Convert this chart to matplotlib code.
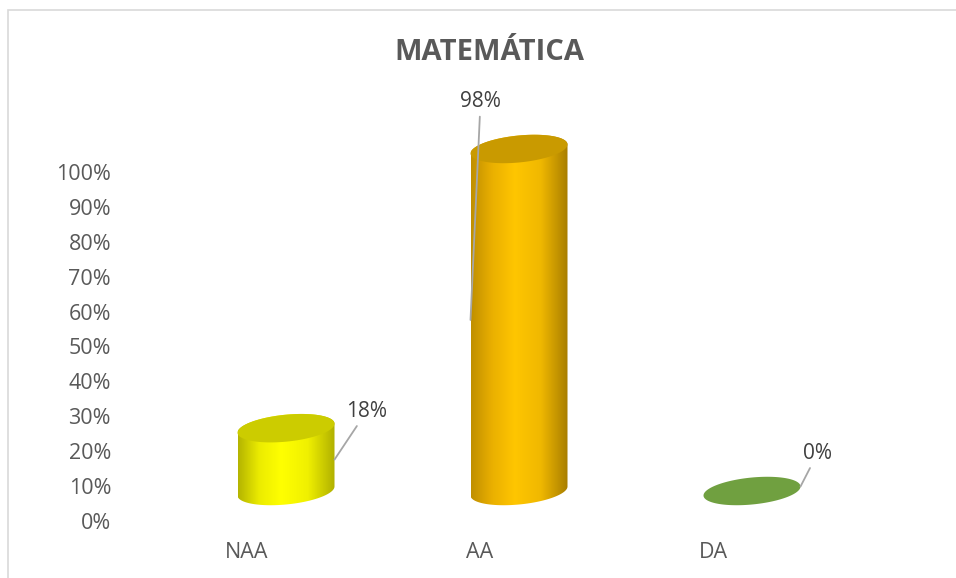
import numpy as np
import matplotlib
matplotlib.use("Agg")
import matplotlib.pyplot as plt
from matplotlib.colors import LinearSegmentedColormap
from matplotlib.patches import Polygon, Rectangle

# ---- data ----
categories = ["NAA", "AA", "DA"]
values = [0.18, 0.98, 0.0]
value_labels = ["18%", "98%", "0%"]
yticks = [0.0, 0.1, 0.2, 0.3, 0.4, 0.5, 0.6, 0.7, 0.8, 0.9, 1.0]
ytick_labels = ["0%", "10%", "20%", "30%", "40%", "50%", "60%", "70%", "80%", "90%", "100%"]
title = "MATEMÁTICA"

# ---- style ----
body_colors = [
    ["#b4b400", "#ecec00", "#ffff00", "#f0f000", "#b0b000"],
    ["#c08f00", "#eab000", "#ffc600", "#f0b800", "#a87e00"],
    ["#5f8f35", "#6fa040", "#76a844", "#6fa040", "#5f8f35"],
]
top_colors = ["#cccc00", "#c99a00", "#70a040"]
label_offsets_px = [(32, 48), (10, 218), (17, 33)]   # text offset from leader anchor (right, up)
anchor_side = [1, -1, 1]

FONT = ["Open Sans", "DejaVu Sans"]
plt.rcParams["font.family"] = FONT

W, H = 956, 578
fig = plt.figure(figsize=(W / 100, H / 100), dpi=100)

# frame
fig.patches.append(Rectangle((8 / W, -0.1), 1.2, 1 - 10 / H + 0.1, transform=fig.transFigure,
                             fill=False, edgecolor="#d9d9d9", linewidth=1.2))

px_per_cat = 233.0
px_per_unit = 349.0
left_px = 247 - 0.5 * px_per_cat
bottom_px = 521
ytop = 1.25
ax = fig.add_axes([left_px / W, (H - bottom_px) / H, 3 * px_per_cat / W, ytop * px_per_unit / H])
ax.set_xlim(-0.5, 2.5)
ax.set_ylim(0, ytop)
for s in ax.spines.values():
    s.set_visible(False)

# 3D geometry (data units)
dx = 39 / px_per_cat
floor = 30 / px_per_unit
hw = 48.5 / px_per_cat
eh = 13.5 / px_per_unit
shear = (4.5 / px_per_unit) / (hw)


def ellipse_pts(cx, cy, t):
    x = cx + hw * np.cos(t)
    y = cy + eh * np.sin(t) + shear * hw * np.cos(t)
    return x, y


for i, (cat, v) in enumerate(zip(categories, values)):
    cx = i + dx
    yb = floor
    yt = floor + v
    if v > 0:
        t1 = np.linspace(np.pi, 2 * np.pi, 80)
        t2 = np.linspace(0, np.pi, 80)
        bx, by = ellipse_pts(cx, yb, t1)
        tx, ty = ellipse_pts(cx, yt, t2)
        poly = np.column_stack([np.concatenate([bx, tx]), np.concatenate([by, ty])])
        patch = Polygon(poly, closed=True, facecolor="none", edgecolor="none")
        ax.add_patch(patch)
        cmap = LinearSegmentedColormap.from_list("c%d" % i, list(zip([0, 0.22, 0.45, 0.72, 1.0], body_colors[i])))
        grad = np.linspace(0, 1, 256).reshape(1, -1)
        im = ax.imshow(grad, extent=[cx - hw, cx + hw, yb - 2 * eh, yt + 2 * eh],
                       aspect="auto", cmap=cmap, interpolation="bilinear", zorder=2)
        im.set_clip_path(patch)
    t = np.linspace(0, 2 * np.pi, 160)
    ex, ey = ellipse_pts(cx, yt, t)
    ax.fill(ex, ey, color=top_colors[i], zorder=3, linewidth=0)

    # data label with leader line
    ax_x = cx + anchor_side[i] * hw
    ax_y = floor + v / 2 + (shear * hw * anchor_side[i] if v == 0 else 0)
    ox, oy = label_offsets_px[i]
    ax.annotate(value_labels[i], xy=(ax_x, ax_y),
                xytext=(ox * 72 / 100, oy * 72 / 100), textcoords="offset points",
                ha="center", va="center", fontsize=15, color="#404040",
                arrowprops=dict(arrowstyle="-", color="#a6a6a6", lw=1.3, shrinkA=1, shrinkB=0),
                zorder=5, annotation_clip=False)

ax.set_xticks(range(len(categories)))
ax.set_xticklabels(categories)
ax.set_yticks(yticks)
ax.set_yticklabels(ytick_labels)
ax.tick_params(axis="both", length=0, labelsize=15.5, labelcolor="#595959")
ax.tick_params(axis="x", pad=15)
ax.tick_params(axis="y", pad=14)

fig.text(489 / W, 1 - 53 / H, title, ha="center", va="center", fontsize=21,
         fontweight="bold", color="#595959")

fig.savefig("out.png", dpi=100)
